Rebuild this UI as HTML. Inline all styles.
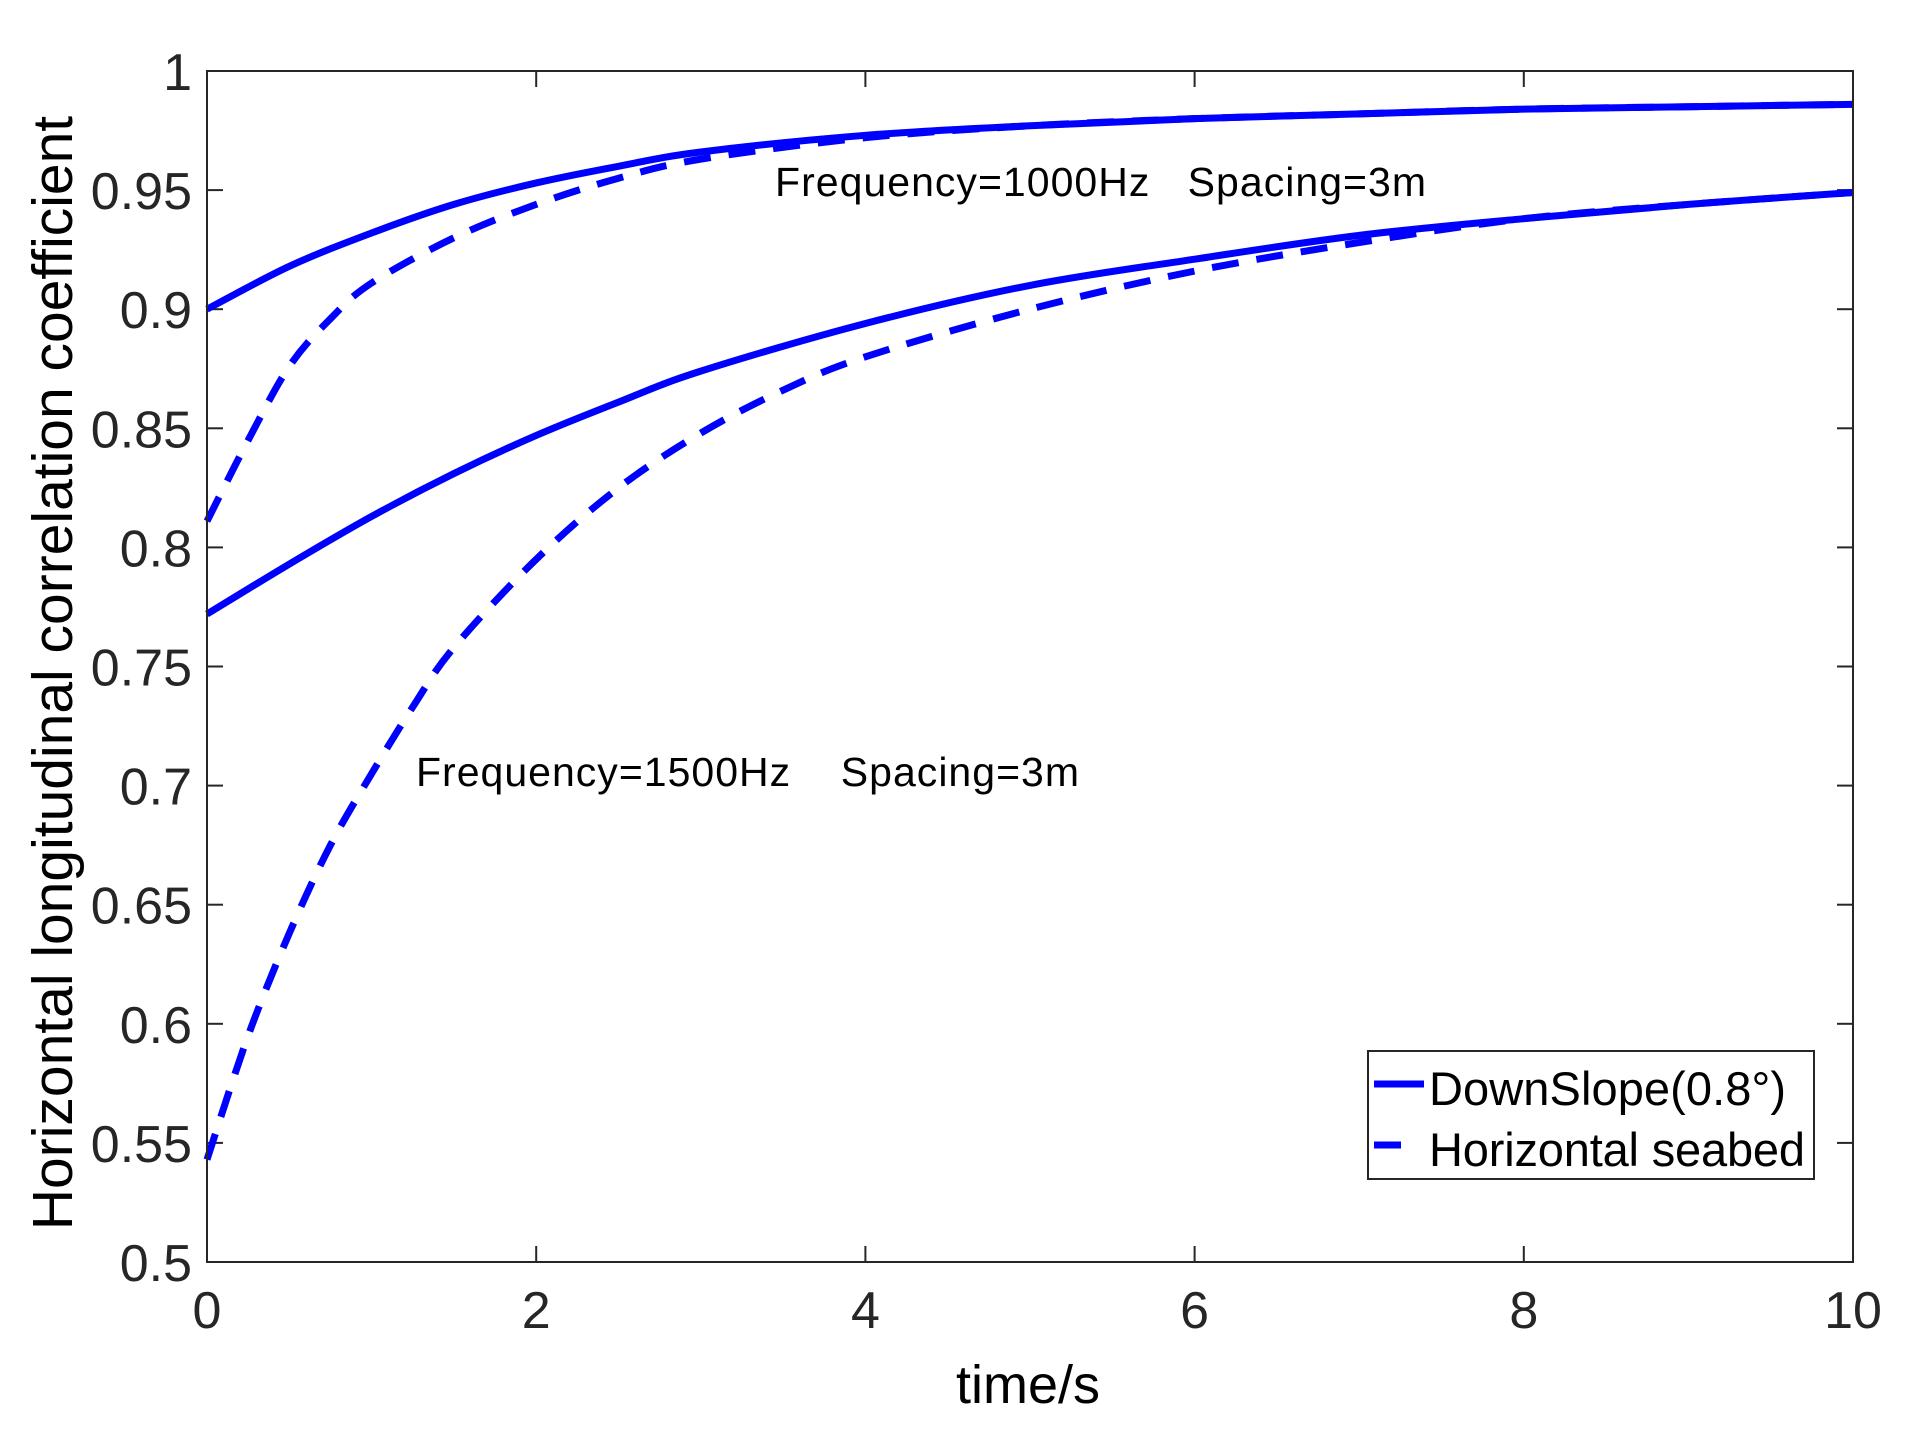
<!DOCTYPE html>
<html><head><meta charset="utf-8"><style>
html,body{margin:0;padding:0;background:#fff;}
svg{display:block;font-family:"Liberation Sans",Arial,sans-serif;}
</style></head><body>
<svg id="s" width="1910" height="1431" viewBox="0 0 1910 1431" xmlns="http://www.w3.org/2000/svg">
<rect width="1910" height="1431" fill="#fff"/>
<g id="ticks" stroke="#262626" stroke-width="2"></g>
<g id="labels" fill="#262626" font-size="52"></g>
<g id="curves" fill="none" stroke="#0000ff" stroke-width="7" stroke-linejoin="round"></g>
<rect x="207" y="71" width="1646" height="1191" fill="none" stroke="#262626" stroke-width="2"/>
<text x="775" y="196" font-size="41" fill="#000" xml:space="preserve" textLength="651">Frequency=1000Hz   Spacing=3m</text>
<text x="416" y="786" font-size="41" fill="#000" xml:space="preserve" textLength="663">Frequency=1500Hz    Spacing=3m</text>
<text transform="translate(72,673) rotate(-90)" text-anchor="middle" font-size="57" fill="#000">Horizontal longitudinal correlation coefficient</text>
<text x="1028" y="1403" text-anchor="middle" font-size="54" fill="#000">time/s</text>
<rect x="1368" y="1051" width="446" height="128" fill="#fff" stroke="#262626" stroke-width="2"/>
<line x1="1374" y1="1084" x2="1424" y2="1084" stroke="#0000ff" stroke-width="7"/>
<line x1="1374" y1="1145" x2="1401" y2="1145" stroke="#0000ff" stroke-width="7"/>
<text x="1429" y="1105" font-size="47" fill="#000" textLength="357">DownSlope(0.8°)</text>
<text x="1429" y="1166" font-size="47" fill="#000" textLength="376">Horizontal seabed</text>
</svg>
<script>
var L=207,R=1853,T=71,B=1262;
function X(t){return L+(R-L)*t/10;}
function Y(v){return B-(B-T)*(v-0.5)/0.5;}
var NS="http://www.w3.org/2000/svg";
function el(tag,attrs,parent,txt){var e=document.createElementNS(NS,tag);for(var k in attrs)e.setAttribute(k,attrs[k]);if(txt!==undefined)e.textContent=txt;parent.appendChild(e);return e;}
var tk=document.getElementById('ticks'),lb=document.getElementById('labels');
for(var i=0;i<=10;i++){var v=0.5+i*0.05,y=Y(v);
 if(i>0&&i<10){el('line',{x1:L,y1:y,x2:L+16,y2:y},tk);el('line',{x1:R,y1:y,x2:R-16,y2:y},tk);}
 var s=(i==0)?'0.5':(i==10)?'1':(Math.round(v*100)/100).toString();
 el('text',{x:192,y:y+19,'text-anchor':'end'},lb,s);}
for(var t=0;t<=10;t+=2){var x=X(t);
 if(t>0&&t<10){el('line',{x1:x,y1:B,x2:x,y2:B-16},tk);el('line',{x1:x,y1:T,x2:x,y2:T+16},tk);}
 el('text',{x:x,y:1328,'text-anchor':'middle'},lb,String(t));}
function path(d){var p=d.map(function(a){return [X(a[0]),Y(a[1])];});
 var s='M'+p[0][0]+','+p[0][1];
 for(var i=0;i<p.length-1;i++){var p0=p[i-1]||p[i],p1=p[i],p2=p[i+1],p3=p[i+2]||p2;
  var c1=[p1[0]+(p2[0]-p0[0])/6,p1[1]+(p2[1]-p0[1])/6],c2=[p2[0]-(p3[0]-p1[0])/6,p2[1]-(p3[1]-p1[1])/6];
  s+=' C'+c1+' '+c2+' '+p2;}
 return s;}
var cv=document.getElementById('curves');
var s1=[[0,0.900],[0.5,0.918],[1,0.932],[1.5,0.944],[2,0.953],[2.5,0.960],[3,0.966],[4,0.973],[5,0.977],[6,0.980],[7,0.982],[8,0.984],[9,0.985],[10,0.986]];
var d1=[[0,0.811],[0.25,0.845],[0.5,0.876],[0.75,0.896],[1,0.911],[1.5,0.930],[2,0.944],[2.5,0.955],[3,0.963],[4,0.972],[5,0.977],[6,0.980],[7,0.982],[8,0.984],[9,0.985],[10,0.986]];
var s2=[[0,0.772],[0.5,0.793],[1,0.813],[1.5,0.831],[2,0.847],[2.5,0.861],[3,0.874],[4,0.894],[5,0.910],[6,0.921],[7,0.931],[8,0.938],[9,0.944],[10,0.949]];
var d2=[[0,0.543],[0.25,0.595],[0.5,0.638],[0.75,0.675],[1,0.705],[1.25,0.733],[1.5,0.758],[2,0.795],[2.5,0.825],[3,0.848],[3.5,0.866],[4,0.880],[5,0.900],[6,0.916],[7,0.928],[8,0.938],[9,0.944],[10,0.949]];
el('path',{d:path(s1)},cv);el('path',{d:path(s2)},cv);
el('path',{d:path(d1),'stroke-dasharray':'27 18'},cv);el('path',{d:path(d2),'stroke-dasharray':'27 18'},cv);
</script>
</body></html>
